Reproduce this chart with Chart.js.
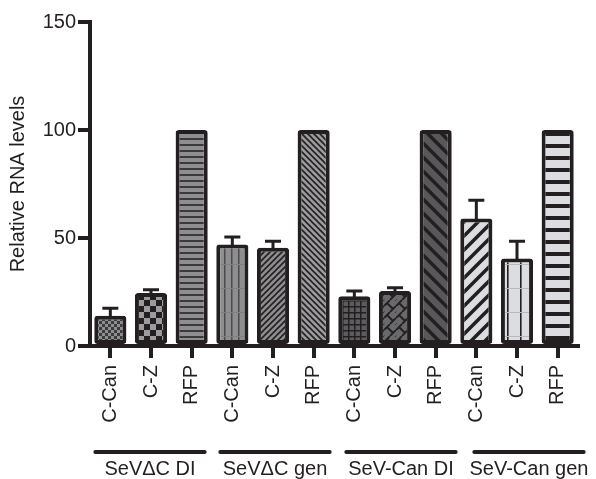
<!DOCTYPE html>
<html>
<head>
<meta charset="utf-8">
<script src="https://cdn.jsdelivr.net/npm/chart.js@4"></script>
<style>
  html, body { margin: 0; padding: 0; background: #fff; }
  #wrap { width: 596px; height: 479px; }
</style>
</head>
<body>
<div id="wrap"><canvas id="c" width="596" height="479"></canvas></div>
<script>
// Construct and condition, in plotting order
const categories = ['C-Can', 'C-Z', 'RFP', 'C-Can', 'C-Z', 'RFP', 'C-Can', 'C-Z', 'RFP', 'C-Can', 'C-Z', 'RFP'];
const groups = ['SeV\u0394C DI', 'SeV\u0394C gen', 'SeV-Can DI', 'SeV-Can gen'];
const groupSize = 3;
// Mean relative RNA level (RFP = 100) and upper error (SEM)
const means = [14, 24.5, 100, 47, 45.5, 100, 23, 25.5, 100, 59, 40.5, 100];
const errors = [3.5, 1.5, 0, 3.5, 3, 0, 2.5, 1.5, 0, 8.5, 8, 0];
const yTicks = [0, 50, 100, 150];

const INK = '#231f20';
const FONT = "'Liberation Sans', Arial, sans-serif";

// ---- fill patterns -------------------------------------------------------
function makePattern(w, h, draw) {
  const c = document.createElement('canvas');
  c.width = w; c.height = h;
  const g = c.getContext('2d');
  draw(g, w, h);
  return g.createPattern(c, 'repeat');
}
function diag(g, w, h, dir, color, lw) {
  g.strokeStyle = color; g.lineWidth = lw; g.lineCap = 'square';
  g.beginPath();
  for (let k = -1; k <= 1; k++) {
    if (dir === '/') { g.moveTo(k * w, h); g.lineTo(k * w + w, 0); }
    else { g.moveTo(k * w, 0); g.lineTo(k * w + w, h); }
  }
  g.stroke();
}
const fills = [
  // fine checkerboard
  makePattern(6, 6, (g) => { g.fillStyle = '#8e8e90'; g.fillRect(0, 0, 6, 6); g.fillStyle = '#3b3b3d'; g.fillRect(0, 0, 3, 3); g.fillRect(3, 3, 3, 3); }),
  // coarse checkerboard
  makePattern(12, 12, (g) => { g.fillStyle = '#9c9c9e'; g.fillRect(0, 0, 12, 12); g.fillStyle = INK; g.fillRect(0, 0, 6, 6); g.fillRect(6, 6, 6, 6); }),
  // thin horizontal stripes
  makePattern(6, 6, (g) => { g.fillStyle = '#8e8e90'; g.fillRect(0, 0, 6, 6); g.fillStyle = '#3a3a3c'; g.fillRect(0, 0, 6, 2); }),
  // thin vertical stripes
  makePattern(7, 24, (g) => { g.fillStyle = '#8e8e90'; g.fillRect(0, 0, 7, 24); g.fillStyle = '#4c4c4e'; g.fillRect(0, 0, 1.5, 24); g.fillStyle = '#808082'; g.fillRect(0, 0, 7, 1); }),
  // dense forward diagonal
  makePattern(6, 6, (g) => { g.fillStyle = '#8e8e90'; g.fillRect(0, 0, 6, 6); diag(g, 6, 6, '/', INK, 1.6); }),
  // dense back diagonal
  makePattern(6, 6, (g) => { g.fillStyle = '#9c9c9e'; g.fillRect(0, 0, 6, 6); diag(g, 6, 6, '\\', INK, 1.6); }),
  // grid on dark gray
  makePattern(6, 6, (g) => { g.fillStyle = '#5c5c5e'; g.fillRect(0, 0, 6, 6); g.fillStyle = INK; g.fillRect(0, 0, 6, 1.5); g.fillRect(0, 0, 1.5, 6); }),
  // zigzag weave on dark gray
  makePattern(12, 12, (g) => {
    g.fillStyle = '#6a6a6c'; g.fillRect(0, 0, 12, 12);
    g.strokeStyle = INK; g.lineWidth = 1.8;
    g.beginPath();
    g.moveTo(0, 6); g.lineTo(6, 0); g.moveTo(6, 12); g.lineTo(12, 6);
    g.moveTo(3, 3); g.lineTo(9, 9); g.moveTo(-3, 9); g.lineTo(0, 12); g.moveTo(9, -3); g.lineTo(15, 3);
    g.stroke();
  }),
  // wide back diagonal on dark gray
  makePattern(14, 14, (g) => { g.fillStyle = '#58585a'; g.fillRect(0, 0, 14, 14); diag(g, 14, 14, '\\', INK, 3.5); }),
  // wide forward diagonal on light gray
  makePattern(14, 14, (g) => { g.fillStyle = '#dcdde0'; g.fillRect(0, 0, 14, 14); diag(g, 14, 14, '/', INK, 3.5); }),
  // sparse vertical lines on light gray
  makePattern(13, 24, (g) => { g.fillStyle = '#dcdde0'; g.fillRect(0, 0, 13, 24); g.fillStyle = INK; g.fillRect(0, 0, 1.6, 24); g.fillStyle = '#b8b9bc'; g.fillRect(0, 0, 13, 1); }),
  // wide horizontal bands on light gray
  makePattern(12, 12, (g) => { g.fillStyle = '#dcdde0'; g.fillRect(0, 0, 12, 12); g.fillStyle = INK; g.fillRect(0, 0, 12, 4); })
];

// ---- error bars (upper arm only) ----------------------------------------
const errorBars = {
  id: 'errorBars',
  afterDatasetsDraw(chart) {
    const ctx = chart.ctx;
    const y = chart.scales.y;
    const meta = chart.getDatasetMeta(0);
    ctx.save();
    ctx.strokeStyle = INK;
    ctx.lineWidth = 3;
    meta.data.forEach((bar, i) => {
      if (!errors[i]) return;
      const top = y.getPixelForValue(means[i] + errors[i]);
      ctx.beginPath();
      ctx.moveTo(bar.x, bar.y + 2);
      ctx.lineTo(bar.x, top);
      ctx.moveTo(bar.x - 8, top);
      ctx.lineTo(bar.x + 8, top);
      ctx.stroke();
    });
    ctx.restore();
  }
};

// ---- group underlines and names below the category labels ---------------
const groupNudge = [-1, 2, 6, 12];
const groupLabels = {
  id: 'groupLabels',
  afterDraw(chart) {
    const ctx = chart.ctx;
    const x = chart.scales.x;
    const lineY = x.bottom - 27;
    const textY = x.bottom - 4;
    ctx.save();
    groups.forEach((name, gi) => {
      const a = x.getPixelForTick(gi * groupSize);
      const b = x.getPixelForTick(gi * groupSize + groupSize - 1);
      const cx = (a + b) / 2 + groupNudge[gi];
      const half = (b - a) / 2 + 14;
      ctx.strokeStyle = INK;
      ctx.lineWidth = 4;
      ctx.lineCap = 'round';
      ctx.beginPath();
      ctx.moveTo(cx - half, lineY);
      ctx.lineTo(cx + half, lineY);
      ctx.stroke();
      ctx.fillStyle = INK;
      ctx.font = '20px ' + FONT;
      ctx.textAlign = 'center';
      ctx.textBaseline = 'alphabetic';
      ctx.fillText(name, cx, textY);
    });
    ctx.restore();
  }
};

new Chart(document.getElementById('c'), {
  type: 'bar',
  data: {
    labels: categories,
    datasets: [{
      data: means,
      backgroundColor: fills,
      borderColor: INK,
      borderWidth: 4,
      borderRadius: 3,
      borderSkipped: false,
      categoryPercentage: 1,
      barPercentage: 0.79
    }]
  },
  options: {
    responsive: false,
    animation: false,
    devicePixelRatio: 1,
    layout: { padding: { top: 22, right: 18, left: 0, bottom: 0 } },
    plugins: { legend: { display: false }, tooltip: { enabled: false } },
    scales: {
      x: {
        afterFit(s) { s.height = 133; },
        border: { display: true, color: INK, width: 4 },
        grid: { display: true, drawOnChartArea: false, offset: false, color: INK, lineWidth: 4, tickLength: 12 },
        ticks: {
          color: INK, font: { family: FONT, size: 20 },
          minRotation: 90, maxRotation: 90, autoSkip: false, padding: 7
        }
      },
      y: {
        min: 0, max: 150,
        afterFit(s) { s.width = 90; },
        afterBuildTicks(s) { s.ticks = yTicks.map(v => ({ value: v })); },
        border: { display: true, color: INK, width: 4 },
        grid: { display: true, drawOnChartArea: false, color: INK, lineWidth: 4, tickLength: 12 },
        ticks: { color: INK, font: { family: FONT, size: 20 }, padding: 2 },
        title: {
          display: true, text: 'Relative RNA levels', color: INK,
          font: { family: FONT, size: 20 }, padding: { top: 6, bottom: 4 }
        }
      }
    }
  },
  plugins: [errorBars, groupLabels]
});
</script>
</body>
</html>
